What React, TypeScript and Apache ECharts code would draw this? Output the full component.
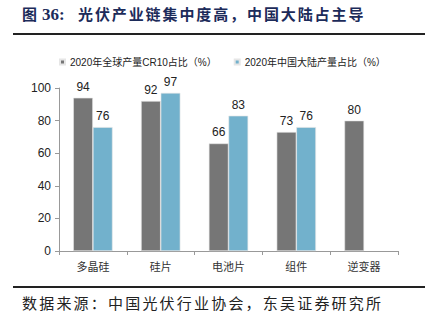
import React, { useEffect, useRef } from "react";
import * as echarts from "echarts";

const categories = ["多晶硅", "硅片", "电池片", "组件", "逆变器"];
const seriesNames = ["2020年全球产量CR10占比（%）", "2020年中国大陆产量占比（%）"];
const globalCR10 = [94, 92, 66, 73, 80];
const chinaShare: (number | string)[] = [76, 97, 83, 76, "-"];
const yTicks = { min: 0, max: 100, interval: 20 };
const titleFig = "图";
const titleNum = "36:";
const titleText = "光伏产业链集中度高，中国大陆占主导";
const sourceText = "数据来源：中国光伏行业协会，东吴证券研究所";

export default function App() {
  const ref = useRef<HTMLDivElement>(null);
  useEffect(() => {
    if (!ref.current) return;
    const chart = echarts.init(ref.current, null, { renderer: "svg" });
    const labelStyle = {
      show: true,
      position: "top" as const,
      distance: 5,
      color: "#222",
      fontSize: 12,
      fontFamily: "Liberation Sans, Arial, sans-serif",
    };
    const titleFont = "bold 15px 'Liberation Serif', 'Noto Sans CJK SC', serif";
    const titleChars = titleText.split("").map((ch, i) => ({
      type: "text",
      x: 78 + i * 16.9,
      y: 7,
      style: { text: ch, fill: "#1c2b5a", font: titleFont },
    }));
    const sourceChars = sourceText.split("").map((ch, i) => ({
      type: "text",
      x: 22 + i * 17.2,
      y: 295,
      style: { text: ch, fill: "#222", font: "15px 'Noto Sans CJK SC', sans-serif" },
    }));
    chart.setOption({
      animation: false,
      backgroundColor: "#fff",
      graphic: [
        {
          type: "text",
          x: 22,
          y: 7,
          style: { text: titleFig, fill: "#1c2b5a", font: titleFont },
        },
        {
          type: "text",
          x: 42,
          y: 6,
          style: {
            text: titleNum,
            fill: "#1c2b5a",
            font: "bold 17px 'Liberation Serif', serif",
          },
        },
        ...titleChars,
        {
          type: "line",
          shape: { x1: 13, y1: 34, x2: 425, y2: 34 },
          style: { stroke: "#222", lineWidth: 2 },
        },
        {
          type: "line",
          shape: { x1: 13, y1: 287, x2: 425, y2: 287 },
          style: { stroke: "#222", lineWidth: 2 },
        },
        ...sourceChars,
      ],
      legend: {
        top: 52,
        left: 54,
        itemWidth: 5,
        itemHeight: 5,
        itemGap: 17,
        icon: "rect",
        textStyle: { fontSize: 10, color: "#222", fontFamily: "Liberation Sans, 'Noto Sans CJK SC', sans-serif" },
        data: seriesNames,
      },
      grid: { left: 59, right: 30, top: 88, bottom: 75 },
      xAxis: {
        type: "category",
        data: categories,
        axisLine: { lineStyle: { color: "#999", width: 1 } },
        axisTick: { show: true, length: 4, lineStyle: { color: "#999" } },
        axisLabel: { fontSize: 11, color: "#333", margin: 9, fontFamily: "'Noto Sans CJK SC', sans-serif" },
      },
      yAxis: {
        type: "value",
        min: yTicks.min,
        max: yTicks.max,
        interval: yTicks.interval,
        axisLine: { show: true, lineStyle: { color: "#999", width: 1 } },
        axisTick: { show: true, length: 4, lineStyle: { color: "#999" } },
        splitLine: { show: false },
        axisLabel: { fontSize: 12, color: "#222", margin: 8, fontFamily: "Liberation Sans, Arial, sans-serif" },
      },
      series: [
        {
          name: seriesNames[0],
          type: "bar",
          data: globalCR10,
          barWidth: "29%",
          barGap: "0%",
          itemStyle: { color: "#767676", borderColor: "#e6e6e6", borderWidth: 0.6 },
          label: labelStyle,
        },
        {
          name: seriesNames[1],
          type: "bar",
          data: chinaShare,
          barWidth: "29%",
          barGap: "0%",
          itemStyle: { color: "#72b1cc", borderColor: "#e6e6e6", borderWidth: 0.6 },
          label: labelStyle,
        },
      ],
    });
    return () => chart.dispose();
  }, []);
  return <div ref={ref} style={{ width: 428, height: 326, position: "absolute", left: 0, top: 0 }} />;
}
